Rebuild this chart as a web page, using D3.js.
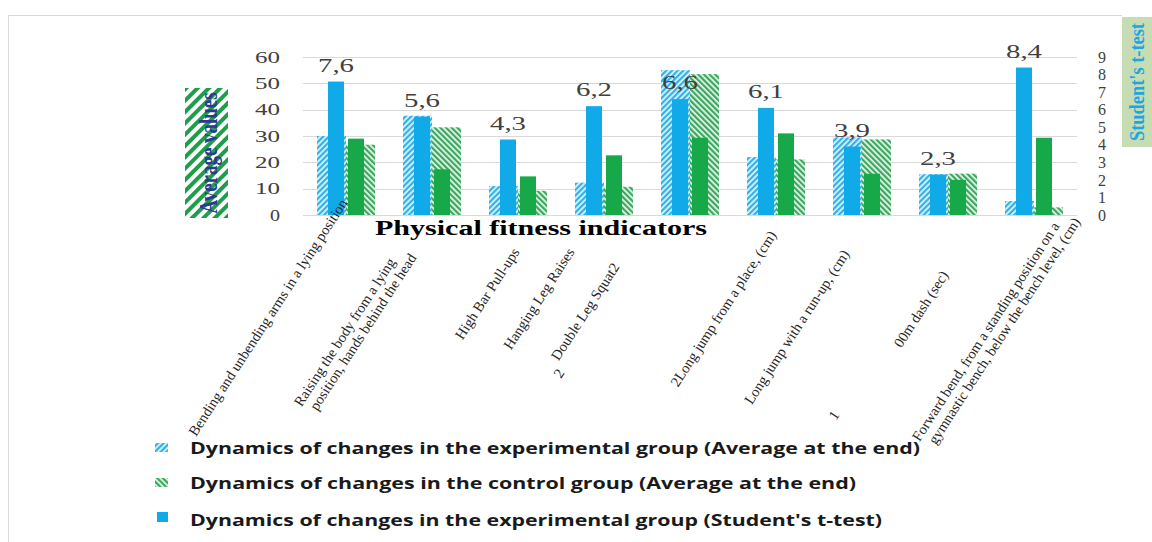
<!DOCTYPE html>
<html><head><meta charset="utf-8">
<script src="https://cdn.jsdelivr.net/npm/d3@7"></script>
<style>body{margin:0;background:#fff}svg{display:block}</style>
</head><body>
<svg id="c" width="1152" height="542"></svg>
<script>
// ---- data ----
const categories = [
  ["Bending and unbending arms in a lying position"],
  ["Raising the body from a lying","position, hands behind the head"],
  ["High Bar Pull-ups"],
  ["Hanging Leg Raises"],
  ["Double Leg Squat2"],
  ["2Long jump from a place, (cm)"],
  ["Long jump with a run-up, (cm)"],
  ["00m dash (sec)"],
  ["Forward bend, from a standing position on a","gymnastic bench, below the bench level, (cm)"]
];
const catKeys = categories.map(d => d.join(" "));
const expAvgEnd = [30, 37.7, 11, 12.3, 55, 22, 29.5, 15.5, 5.3];
const ctlAvgEnd = [26.7, 33.3, 9.2, 10.7, 53.5, 21.1, 28.7, 15.7, 2.9];
const expTtest  = [7.6, 5.6, 4.3, 6.2, 6.6, 6.1, 3.9, 2.3, 8.4];
const ctlTtest  = [4.35, 2.6, 2.2, 3.4, 4.4, 4.65, 2.35, 2.0, 4.4];
const leftTicks = [0, 10, 20, 30, 40, 50, 60];
const rightTicks = [0, 1, 2, 3, 4, 5, 6, 7, 8, 9];
const legendLabels = [
  "Dynamics of changes in the experimental group (Average at the end)",
  "Dynamics of changes in the control group (Average at the end)",
  "Dynamics of changes in the experimental group (Student's t-test)"
];
// layout nudges for the (irregularly placed) category labels
const labelNudge = [[2,203],[-36,262],[2,252],[-29,252],[-70,267],[1,235],[-12,254],[1,275],[26,226]];

// ---- drawing ----
const svg = d3.select("#c");
const defs = svg.append("defs");
function hatch(id, color, angle, period, w, bg) {
  const p = defs.append("pattern").attr("id", id).attr("patternUnits", "userSpaceOnUse")
    .attr("width", period).attr("height", period).attr("patternTransform", `rotate(${angle})`);
  p.append("rect").attr("width", period).attr("height", period).attr("fill", bg);
  p.append("rect").attr("width", w).attr("height", period).attr("fill", color);
}
hatch("hBlue", "#2fb3ea", 45, 4, 2.3, "#e6f6fd");
hatch("hGreen", "#3aa95f", -45, 4, 2.3, "#f0f9f2");
hatch("hTitle", "#1e9e4a", 45, 8, 4, "#ffffff");

const blue = "#11aae8", green = "#17a84a";

// frame
svg.append("line").attr("x1", 8).attr("x2", 1122).attr("y1", 15.5).attr("y2", 15.5).attr("stroke", "#d9d9d9");
svg.append("line").attr("x1", 8.5).attr("x2", 8.5).attr("y1", 15).attr("y2", 542).attr("stroke", "#d9d9d9");

const x = d3.scaleBand().domain(catKeys).range([303, 1077]).padding(0);
const yL = d3.scaleLinear().domain([0, 60]).range([215, 57]);
const yR = d3.scaleLinear().domain([0, 9]).range([215, 57]);
const xh = d3.scaleBand().domain(["exp", "ctl"]).range([-29, 29]).padding(0);
const xs = d3.scaleBand().domain(["exp", "ctl"]).range([-18, 18]).paddingInner(0.2);
const cx = k => x(k) + x.bandwidth() / 2;

// gridlines
svg.append("g").selectAll("line").data(leftTicks).join("line")
  .attr("x1", 303).attr("x2", 1077).attr("y1", d => Math.round(yL(d)) + 0.5).attr("y2", d => Math.round(yL(d)) + 0.5)
  .attr("stroke", "#d9d9d9").attr("stroke-width", 1);

// left axis
const axL = svg.append("g").attr("transform", "translate(299,0)")
  .call(d3.axisLeft(yL).tickValues(leftTicks).tickSize(0).tickPadding(19));
axL.select(".domain").remove();
axL.selectAll("text").attr("font-family", "Liberation Serif").attr("font-size", 16).attr("fill", "#404040")
  .attr("textLength", d => d === 0 ? 10 : 25).attr("lengthAdjust", "spacingAndGlyphs");

// right axis
const axR = svg.append("g").attr("transform", "translate(1090,0)")
  .call(d3.axisRight(yR).tickValues(rightTicks).tickSize(0).tickPadding(8));
axR.select(".domain").remove();
axR.selectAll("text").attr("font-family", "Liberation Serif").attr("font-size", 16).attr("fill", "#404040");

// hatched bars (left axis)
const gH = svg.append("g");
gH.selectAll(".be").data(catKeys).join("rect")
  .attr("x", (k) => cx(k) + xh("exp")).attr("width", xh.bandwidth())
  .attr("y", (k, i) => yL(expAvgEnd[i])).attr("height", (k, i) => yL(0) - yL(expAvgEnd[i]))
  .attr("fill", "url(#hBlue)");
gH.selectAll(".bc").data(catKeys).join("rect")
  .attr("x", (k) => cx(k) + xh("ctl")).attr("width", xh.bandwidth())
  .attr("y", (k, i) => yL(ctlAvgEnd[i])).attr("height", (k, i) => yL(0) - yL(ctlAvgEnd[i]))
  .attr("fill", "url(#hGreen)");

// solid bars (right axis)
const gS = svg.append("g");
gS.selectAll(".se").data(catKeys).join("rect")
  .attr("x", (k) => cx(k) + xs("exp")).attr("width", xs.bandwidth())
  .attr("y", (k, i) => yR(expTtest[i])).attr("height", (k, i) => yR(0) - yR(expTtest[i]))
  .attr("fill", blue);
gS.selectAll(".sc").data(catKeys).join("rect")
  .attr("x", (k) => cx(k) + xs("ctl")).attr("width", xs.bandwidth())
  .attr("y", (k, i) => yR(ctlTtest[i])).attr("height", (k, i) => yR(0) - yR(ctlTtest[i]))
  .attr("fill", green);

// data labels
svg.append("g").selectAll("text").data(catKeys).join("text")
  .attr("x", (k) => cx(k) + xs("exp") + xs.bandwidth() / 2)
  .attr("y", (k, i) => yR(expTtest[i]) - 10)
  .attr("text-anchor", "middle").attr("font-family", "Liberation Serif").attr("font-size", 19)
  .attr("fill", "#404040").attr("textLength", 36).attr("lengthAdjust", "spacingAndGlyphs")
  .text((k, i) => String(expTtest[i]).replace(".", ","));

// x title
svg.append("text").attr("x", 541).attr("y", 235).attr("text-anchor", "middle")
  .attr("font-family", "Liberation Serif").attr("font-weight", "bold").attr("font-size", 22)
  .attr("fill", "#000").attr("textLength", 332).attr("lengthAdjust", "spacingAndGlyphs")
  .text("Physical fitness indicators");

// category labels
const gC = svg.append("g").attr("font-family", "Liberation Serif").attr("font-size", 14.5).attr("fill", "#262626");
categories.forEach((lines, i) => {
  const k = catKeys[i];
  const t = gC.append("text")
    .attr("transform", `translate(${cx(k) + labelNudge[i][0]},${labelNudge[i][1]}) rotate(-57)`)
    .attr("text-anchor", "end");
  lines.forEach((ln, j) => {
    t.append("tspan").attr("x", j ? 15 : 0).attr("dy", j ? "1.05em" : 0).text(ln);
  });
});
// stray characters present in the original figure
gC.append("text").attr("transform", "translate(563,376) rotate(-57)").attr("text-anchor", "middle").text("2");
gC.append("text").attr("transform", "translate(838,418) rotate(-57)").attr("text-anchor", "middle").text("1");

// left title
svg.append("rect").attr("x", 185).attr("y", 88).attr("width", 43).attr("height", 130).attr("fill", "url(#hTitle)");
svg.append("text").attr("transform", "translate(208,153) rotate(-90)").attr("text-anchor", "middle").attr("dy", "0.35em")
  .attr("font-family", "Liberation Serif").attr("font-weight", "bold").attr("font-size", 25).attr("fill", "#2b3990")
  .attr("textLength", 121).attr("lengthAdjust", "spacingAndGlyphs").text("Average values");

// right title
svg.append("rect").attr("x", 1122).attr("y", 17).attr("width", 30).attr("height", 130).attr("fill", "#c6dcb2");
svg.append("text").attr("transform", "translate(1136,82) rotate(-90)").attr("text-anchor", "middle").attr("dy", "0.35em")
  .attr("font-family", "Liberation Serif").attr("font-weight", "bold").attr("font-size", 22).attr("fill", "#1ea5e2")
  .attr("textLength", 118).attr("lengthAdjust", "spacingAndGlyphs").text("Student's t-test");

// legend
const legFills = ["url(#hBlue)", "url(#hGreen)", blue];
const legY = [454, 489, 526];
const legLen = [730, 666, 692];
const gL = svg.append("g");
legendLabels.forEach((lab, i) => {
  if (i < 2) gL.append("rect").attr("x", 155).attr("y", legY[i] - 11).attr("width", 13).attr("height", 9).attr("fill", legFills[i]);
  else gL.append("rect").attr("x", 157).attr("y", legY[i] - 14).attr("width", 11).attr("height", 10).attr("fill", legFills[i]);
  gL.append("text").attr("x", 190).attr("y", legY[i]).attr("font-family", "Open Sans").attr("font-weight", "bold")
    .attr("font-size", 15.5).attr("fill", "#1a1a1a").attr("textLength", legLen[i]).attr("lengthAdjust", "spacingAndGlyphs")
    .text(lab);
});
</script>
</body></html>
